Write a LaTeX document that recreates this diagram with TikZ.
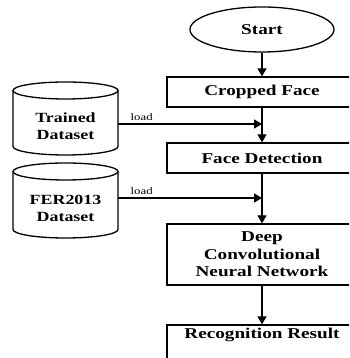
\documentclass[tikz,border=0pt]{standalone}
\usepackage{fontspec}
\setmainfont{Liberation Serif}[FakeStretch=1.28]
\usetikzlibrary{arrows.meta,shapes.geometric}
\begin{document}
\begin{tikzpicture}[x=1pt,y=1pt,
  line width=1.3pt,
  stepbox/.style={draw, rectangle, minimum width=190pt, inner sep=0pt, align=center,
    font=\fontsize{15}{17.5}\selectfont\bfseries},
  startnode/.style={draw, ellipse, minimum width=144pt, minimum height=45pt, inner sep=0pt,
    font=\fontsize{15}{17.5}\selectfont\bfseries},
  cyltext/.style={inner sep=0pt, align=center, font=\fontsize{14}{17}\selectfont\bfseries},
  lbl/.style={inner sep=0pt, anchor=south west, font=\fontsize{10}{12}\selectfont},
  arr/.style={-{Triangle[length=8pt,width=9pt]}}]
\useasboundingbox (0,0) rectangle (349,358);
\clip (0,0) rectangle (349,358);
% main flow
\node[startnode] (start) at (262,328.5) {Start};
\node[stepbox, minimum height=30pt] (crop) at (262,266) {Cropped Face};
\node[stepbox, minimum height=30pt] (detect) at (262,200) {Face Detection};
\node[stepbox, minimum height=61pt] (dcnn) at (262,103.5) {Deep\\Convolutional\\Neural Network};
\node[stepbox, minimum height=44pt, text depth=0pt] (recog) at (262,11) {};
\node[inner sep=0pt, font=\fontsize{15}{17.5}\selectfont\bfseries] (recogtxt) at (262,23) {Recognition Result};
\draw[arr] (start) -- (crop);
\draw[arr] (crop) -- (detect);
\draw[arr] (detect) -- (dcnn);
\draw[arr] (dcnn) -- (recog);
% Trained Dataset cylinder
\draw (65.5,267.5) ellipse[x radius=52.5, y radius=8.5];
\draw (13,267.5) -- (13,211.5) arc[start angle=180, end angle=360, x radius=52.5, y radius=8.5] -- (118,267.5);
\node[cyltext] (trained) at (65.5,231.5) {Trained\\Dataset};
\coordinate (trainedR) at (118,234);
\draw[arr] (trainedR) -- (trainedR -| crop.south);
\node[lbl] (load1) at (130,236.5) {load};
% FER2013 cylinder
\draw (65.5,186.5) ellipse[x radius=52.5, y radius=8.5];
\draw (13,186.5) -- (13,128.5) arc[start angle=180, end angle=360, x radius=52.5, y radius=8.5] -- (118,186.5);
\node[cyltext] (fer) at (65.5,149.5) {FER2013\\Dataset};
\coordinate (ferR) at (118,160);
\draw[arr] (ferR) -- (ferR -| detect.south);
\node[lbl] (load2) at (130,162.5) {load};
\end{tikzpicture}
\end{document}
